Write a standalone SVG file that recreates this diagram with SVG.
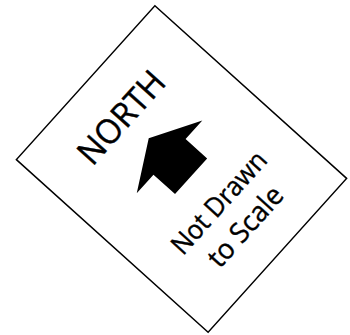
<svg xmlns="http://www.w3.org/2000/svg" width="350" height="335" viewBox="0 0 350 335">
<style>
.lbl{font-family:"Open Sans","Noto Sans",sans-serif;fill:#000;stroke:#000;stroke-width:0.4;text-anchor:middle}
</style>
<rect width="350" height="335" fill="#fff"/>
<g id="sign" transform="translate(181.5,169) rotate(-48)">
<rect x="-103.5" y="-129" width="207" height="258" fill="#fff" stroke="#000" stroke-width="1.5"/>
<text class="lbl" x="-2" y="-67.5" font-size="34" textLength="112" lengthAdjust="spacingAndGlyphs">NORTH</text>
<polygon points="1,-45 50,-17 25,-17 25,12 -23,12 -23,-17 -48,-17" fill="#000"/>
<text class="lbl" x="0" y="59.5" font-size="27" textLength="128" lengthAdjust="spacingAndGlyphs">Not Drawn</text>
<text class="lbl" x="0" y="95.5" font-size="28" textLength="98" lengthAdjust="spacingAndGlyphs">to Scale</text>
</g>
</svg>
